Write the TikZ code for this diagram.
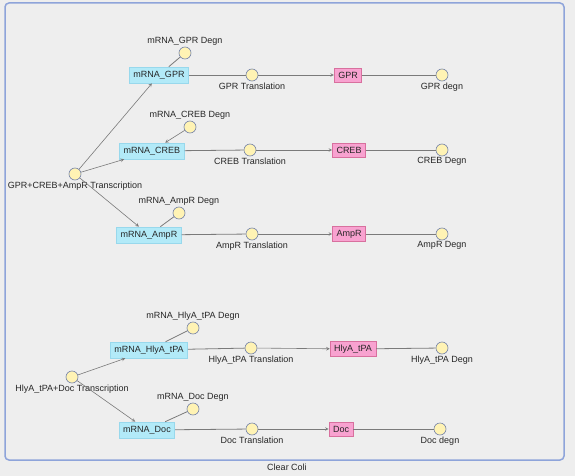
\documentclass[tikz,border=0pt]{standalone}
\usepackage{fontspec}
\setmainfont{Liberation Sans}
\usetikzlibrary{shapes.geometric, arrows}
\definecolor{bgGray}{HTML}{EEEEEE}
\definecolor{frameBlue}{HTML}{8EA4DA}
\definecolor{rxFill}{HTML}{FFF3B4}
\definecolor{rxDraw}{HTML}{7482A8}
\definecolor{mFill}{HTML}{B2EAF8}
\definecolor{mDraw}{HTML}{98D8EC}
\definecolor{pFill}{HTML}{F8A2D0}
\definecolor{pDraw}{HTML}{D8709E}
\definecolor{edgeGray}{HTML}{7A7A7A}
\tikzstyle{reaction} = [circle, minimum size=12pt, inner sep=0pt, fill=rxFill, draw=rxDraw, line width=0.6pt, label distance=0pt]
\tikzstyle{mrna} = [rectangle, minimum height=16pt, inner xsep=4pt, fill=mFill, draw=mDraw, line width=0.6pt]
\tikzstyle{protein} = [rectangle, minimum height=14pt, inner xsep=4pt, fill=pFill, draw=pDraw, line width=0.6pt]
\tikzstyle{link} = [edgeGray, line width=0.8pt]
\tikzstyle{arrow} = [edgeGray, line width=0.6pt, ->, >=stealth]

\begin{document}
\begin{tikzpicture}[x=1pt, y=-1pt, every node/.style={font=\fontsize{9}{10}\selectfont, text=black!85}, every label/.style={inner sep=1pt, font=\fontsize{9}{10}\selectfont, text=black!85}]
\fill [bgGray] (0,0) rectangle (575,476);
\useasboundingbox (0,0) rectangle (575,476);
\draw [frameBlue, line width=1.5pt, rounded corners=4pt] (5,3) rectangle (564,460);

% first operon
\node (tx1) [reaction, label=below:GPR+CREB+AmpR Transcription] at (75,174) {};
\node (mgpr) [mrna] at (159,75) {mRNA\_GPR};
\node (dmgpr) [reaction, label=above:mRNA\_GPR Degn] at (185,53) {};
\node (tlgpr) [reaction, label=below:GPR Translation] at (252,75) {};
\node (gpr) [protein] at (348,75) {GPR};
\node (dgpr) [reaction, label=below:GPR degn] at (442,75) {};

\node (mcreb) [mrna] at (152,151) {mRNA\_CREB};
\node (dmcreb) [reaction, label=above:mRNA\_CREB Degn] at (190,127) {};
\node (tlcreb) [reaction, label=below:CREB Translation] at (250,150) {};
\node (creb) [protein] at (349,150) {CREB};
\node (dcreb) [reaction, label=below:CREB Degn] at (442,150) {};

\node (mampr) [mrna] at (149,235) {mRNA\_AmpR};
\node (dmampr) [reaction, label=above:mRNA\_AmpR Degn] at (179,213) {};
\node (tlampr) [reaction, label=below:AmpR Translation] at (252,234) {};
\node (ampr) [protein] at (349,234) {AmpR};
\node (dampr) [reaction, label=below:AmpR Degn] at (442,234) {};

% second operon
\node (tx2) [reaction, label=below:HlyA\_tPA+Doc Transcription] at (72,377) {};
\node (mhly) [mrna] at (149,350) {mRNA\_HlyA\_tPA};
\node (dmhly) [reaction, label=above:mRNA\_HlyA\_tPA Degn] at (193,328) {};
\node (tlhly) [reaction, label=below:HlyA\_tPA Translation] at (251,348) {};
\node (hly) [protein] at (353,349) {HlyA\_tPA};
\node (dhly) [reaction, label=below:HlyA\_tPA Degn] at (442,348) {};

\node (mdoc) [mrna] at (147,430) {mRNA\_Doc};
\node (dmdoc) [reaction, label=above:mRNA\_Doc Degn] at (193,409) {};
\node (tldoc) [reaction, label=below:Doc Translation] at (252,429) {};
\node (doc) [protein] at (341,429) {Doc};
\node (ddoc) [reaction, label=below:Doc degn] at (440,429) {};

\node (cell) at (287,467) {Clear Coli};

\draw [arrow] (tx1) -- (mgpr);
\draw [arrow] (tx1) -- (mcreb);
\draw [arrow] (tx1) -- (mampr);
\draw [link] (mgpr) -- (dmgpr);
\draw [arrow] (dmcreb) -- (mcreb);
\draw [link] (mampr) -- (dmampr);
\draw [link] (mgpr) -- (tlgpr);
\draw [link] (mcreb) -- (tlcreb);
\draw [link] (mampr) -- (tlampr);
\draw [arrow] (tlgpr) -- (gpr);
\draw [arrow] (tlcreb) -- (creb);
\draw [arrow] (tlampr) -- (ampr);
\draw [link] (gpr) -- (dgpr);
\draw [link] (creb) -- (dcreb);
\draw [link] (ampr) -- (dampr);

\draw [arrow] (tx2) -- (mhly);
\draw [arrow] (tx2) -- (mdoc);
\draw [link] (mhly) -- (dmhly);
\draw [link] (mdoc) -- (dmdoc);
\draw [link] (mhly) -- (tlhly);
\draw [link] (mdoc) -- (tldoc);
\draw [arrow] (tlhly) -- (hly);
\draw [arrow] (tldoc) -- (doc);
\draw [link] (hly) -- (dhly);
\draw [link] (doc) -- (ddoc);

\end{tikzpicture}
\end{document}
